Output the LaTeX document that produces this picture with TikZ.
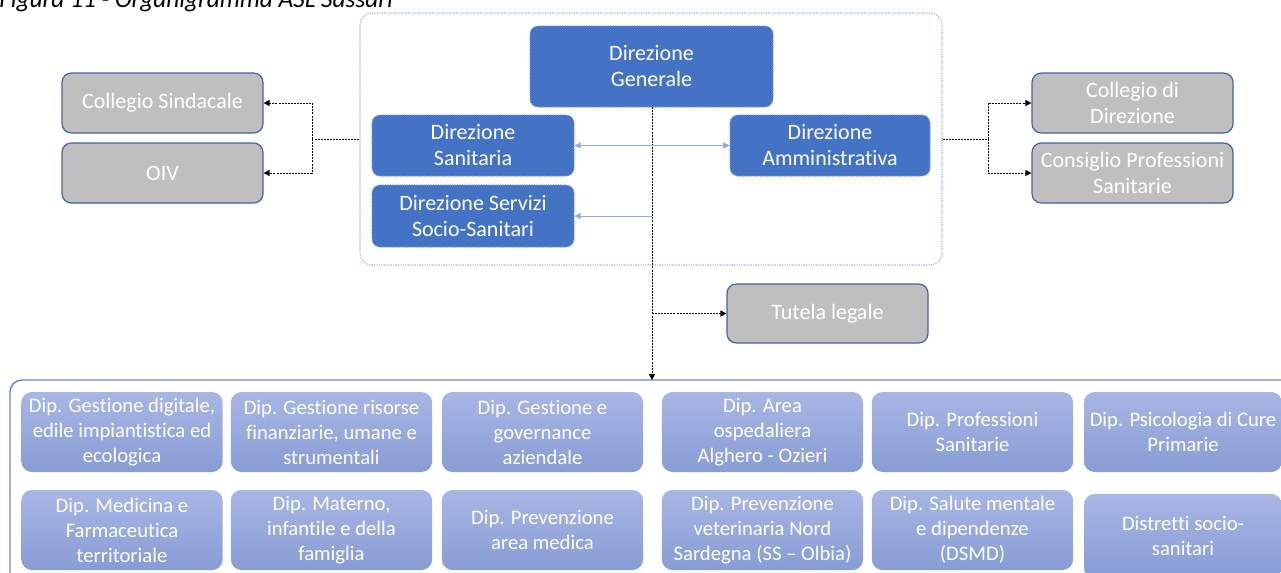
\documentclass[tikz,border=0pt]{standalone}
\usepackage{fontspec}
\setmainfont{Carlito}[Ligatures={NoCommon}]
\usetikzlibrary{arrows.meta}
\definecolor{dblue}{RGB}{68,114,196}
\definecolor{dbord}{RGB}{120,150,215}
\definecolor{lblue}{RGB}{143,170,220}
\definecolor{gfill}{RGB}{191,191,191}
\definecolor{gbord}{RGB}{65,100,160}
\definecolor{dtop}{RGB}{168,182,228}
\definecolor{dbot}{RGB}{136,156,213}
\definecolor{frame}{RGB}{105,135,205}
\tikzset{
  bluebox/.style={rectangle, rounded corners=6pt, fill=dblue, draw=dbord, densely dotted, line width=0.8pt,
    text=white, align=center, inner sep=0pt, font=\fontsize{16.5}{19.5}\selectfont},
  greybox/.style={rectangle, rounded corners=7pt, fill=gfill, draw=gbord, line width=0.9pt,
    text=white, align=center, inner sep=0pt, font=\fontsize{16.5}{19.5}\selectfont},
  depbox/.style={rectangle, rounded corners=8pt, top color=dtop, bottom color=dbot, draw=none,
    text=white, align=center, inner sep=0pt, minimum width=151pt, minimum height=60pt,
    font=\fontsize{15.5}{18.75}\selectfont},
  conn/.style={black, line width=0.6pt, dash pattern=on 1.5pt off 0.8pt},
  connarrow/.style={conn, -{Triangle[length=4.5pt,width=4.5pt]}},
  bluearrow/.style={lblue, line width=0.6pt, {Triangle[length=4.5pt,width=4.5pt]}-{Triangle[length=4.5pt,width=4.5pt]}},
  bluearrowone/.style={lblue, line width=0.6pt, -{Triangle[length=4.5pt,width=4.5pt]}},
}
\begin{document}
\begin{tikzpicture}[x=0.75pt,y=-0.75pt]
\clip (0,0) rectangle (1281,572);
\fill[white] (0,0) rectangle (1281,572);

% title
\node[anchor=base west, inner sep=0pt, font=\fontsize{19}{22}\selectfont\itshape] (title) at (-1,7) {Figura 11 - Organigramma ASL Sassari};

% top container
\node[rectangle, rounded corners=9pt, draw=lblue, densely dotted, line width=0.8pt,
  minimum width=436.5pt, minimum height=189pt, inner sep=0pt] (topc) at (651,139) {};

\node[bluebox, minimum width=182.25pt, minimum height=60.75pt] (dg) at (651.5,66.5) {Direzione\\Generale};
\node[bluebox, minimum width=151.5pt, minimum height=45.75pt] (ds) at (473,145.5) {Direzione\\Sanitaria};
\node[bluebox, minimum width=151.5pt, minimum height=46.5pt] (dss) at (473,216) {Direzione Servizi\\Socio-Sanitari};
\node[bluebox, minimum width=150pt, minimum height=45.75pt] (da) at (830,145.5) {Direzione\\Amministrativa};

% side boxes
\node[greybox, minimum width=150.75pt, minimum height=45pt] (cs) at (162.5,103) {Collegio Sindacale};
\node[greybox, minimum width=150.75pt, minimum height=45pt] (oiv) at (162.5,173) {OIV};
\node[greybox, minimum width=150.75pt, minimum height=45pt] (cd) at (1132.5,103) {Collegio di\\Direzione};
\node[greybox, minimum width=150.75pt, minimum height=45pt] (cps) at (1132.5,173) {Consiglio Professioni\\Sanitarie};
\node[greybox, minimum width=150.75pt, minimum height=44.25pt] (tl) at (827.5,313.5) {Tutela legale};

% bottom container
\node[rectangle, rounded corners=9pt, draw=frame, line width=1.1pt, minimum width=967.5pt,
  minimum height=165pt, inner sep=0pt] (deps) at (655,490) {};

% departments
\node[depbox] (d1) at (122,432) {Dip. Gestione digitale,\\edile impiantistica ed\\ecologica};
\node[depbox] (d2) at (331.5,432) {Dip. Gestione risorse\\finanziarie, umane e\\strumentali};
\node[depbox] (d3) at (542.5,432) {Dip. Gestione e\\governance\\aziendale};
\node[depbox] (d4) at (762.5,432) {Dip. Area\\ospedaliera\\Alghero - Ozieri};
\node[depbox] (d5) at (972.5,432) {Dip. Professioni\\Sanitarie};
\node[depbox, minimum width=148.5pt] (d6) at (1183,432) {Dip. Psicologia di Cure\\Primarie};
\node[depbox] (d7) at (122,530) {Dip. Medicina e\\Farmaceutica\\territoriale};
\node[depbox] (d8) at (331.5,530) {Dip. Materno,\\infantile e della\\famiglia};
\node[depbox] (d9) at (542.5,530) {Dip. Prevenzione\\area medica};
\node[depbox] (d10) at (762.5,530) {Dip. Prevenzione\\veterinaria Nord\\Sardegna (SS – Olbia)};
\node[depbox] (d11) at (972.5,530) {Dip. Salute mentale\\e dipendenze\\(DSMD)};
\node[depbox, minimum width=148.5pt, minimum height=63pt] (d12) at (1183,536) {Distretti socio-\\sanitari};

% coordinates
\coordinate (lsplit) at (312,139);
\coordinate (rsplit) at (988,139);
\coordinate (vdss) at (652,216);
\coordinate (vtl) at (652,313.5);
\coordinate (vtop) at (652,107);
\coordinate (vbot) at (652,380);

% connectors
\draw[connarrow] (vtop) -- (vbot);
\draw[conn] (topc.west) -- (lsplit);
\draw[connarrow] (lsplit) |- (cs.east);
\draw[connarrow] (lsplit) |- (oiv.east);
\draw[conn] (topc.east) -- (rsplit);
\draw[connarrow] (rsplit) |- (cd.west);
\draw[connarrow] (rsplit) |- (cps.west);
\draw[connarrow] (vtl) -- (tl.west);
\draw[bluearrow] (ds.east) -- (da.west);
\draw[bluearrowone] (vdss) -- (dss.east);
\end{tikzpicture}
\end{document}
